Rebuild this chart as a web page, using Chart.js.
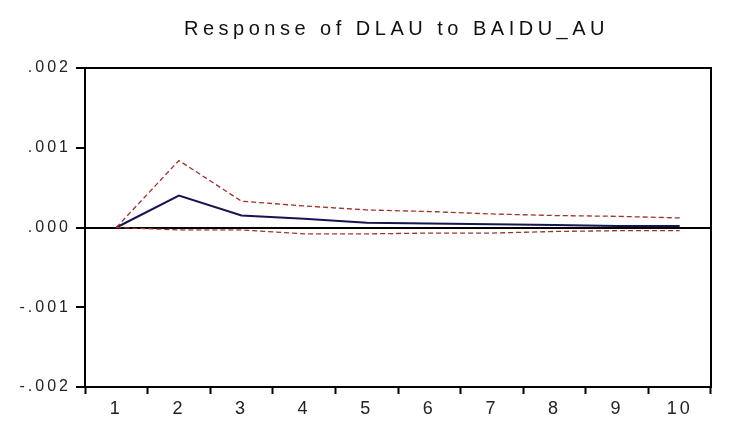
<!DOCTYPE html>
<html>
<head>
<meta charset="utf-8">
<script src="https://cdn.jsdelivr.net/npm/chart.js@4/dist/chart.umd.min.js"></script>
<style>
html,body{margin:0;padding:0;background:#fff;}
#wrap{width:741px;height:446px;position:relative;}
</style>
</head>
<body>
<div id="wrap"><canvas id="c"></canvas></div>
<script>
const periods = ['1','2','3','4','5','6','7','8','9','10'];
const response = [0, 0.00040, 0.00015, 0.00011, 0.00006, 0.00005, 0.00004, 0.00003, 0.00002, 0.00002];
const upperBand = [0, 0.00084, 0.00033, 0.00027, 0.00022, 0.00020, 0.00017, 0.00015, 0.00014, 0.00012];
const lowerBand = [0, -0.00003, -0.00003, -0.00008, -0.00008, -0.00007, -0.00007, -0.00005, -0.00004, -0.00004];
const yTickLabels = {'0.002': '.002', '0.001': '.001', '0': '.000', '-0.001': '-.001', '-0.002': '-.002'};
const titleText = 'Response of DLAU to BAIDU_AU';

const TICK_SPACING = '3px';
const TITLE_SPACING = '4.5px';
const TITLE_SHIFT_X = 41;

const spacingPlugin = {
  id: 'spacing',
  beforeUpdate(chart) { chart.ctx.letterSpacing = TICK_SPACING; },
  beforeLayout(chart) { chart.ctx.letterSpacing = TICK_SPACING; },
  beforeDraw(chart) {
    chart.ctx.letterSpacing = TICK_SPACING;
    const tb = chart.titleBlock;
    if (tb && !tb._wrapped) {
      const orig = tb.draw;
      tb.draw = function (...args) {
        const ctx = chart.ctx;
        ctx.save();
        ctx.translate(TITLE_SHIFT_X, 0);
        ctx.letterSpacing = TITLE_SPACING;
        orig.apply(this, args);
        ctx.restore();
        ctx.letterSpacing = TICK_SPACING;
      };
      tb._wrapped = true;
    }
  }
};

const bandStyle = {
  borderColor: '#a0302a',
  borderWidth: 1.3,
  borderDash: [5, 3],
  pointRadius: 0,
  fill: false,
  tension: 0
};

new Chart(document.getElementById('c'), {
  type: 'line',
  data: {
    labels: periods,
    datasets: [
      Object.assign({ label: 'Upper', data: upperBand }, bandStyle),
      Object.assign({ label: 'Lower', data: lowerBand }, bandStyle),
      { label: 'Response', data: response, borderColor: '#151550', borderWidth: 2, pointRadius: 0, fill: false, tension: 0 }
    ]
  },
  plugins: [spacingPlugin],
  options: {
    responsive: true,
    maintainAspectRatio: false,
    animation: false,
    layout: { padding: { left: 0, right: 30, top: 0, bottom: 0 } },
    plugins: {
      legend: { display: false },
      tooltip: { enabled: false },
      title: {
        display: true,
        text: titleText,
        color: '#111',
        font: { family: 'Liberation Sans, Arial, sans-serif', size: 20, weight: 'normal' },
        padding: { top: 17, bottom: 27 }
      }
    },
    scales: {
      x: {
        type: 'category',
        offset: true,
        position: 'bottom',
        grid: {
          offset: true,
          drawOnChartArea: false,
          drawTicks: true,
          tickLength: 7,
          tickColor: '#000',
          tickWidth: 2
        },
        border: { display: true, color: '#000', width: 2 },
        ticks: {
          color: '#222',
          font: { family: 'Liberation Sans, Arial, sans-serif', size: 18 },
          padding: 4,
          maxRotation: 0,
          autoSkip: false
        },
        afterFit(s) { s.height = 59; }
      },
      x2: {
        type: 'category',
        position: 'top',
        grid: { display: false, drawTicks: false },
        border: { display: true, color: '#000', width: 2 },
        ticks: { display: false },
        afterFit(s) { s.height = 0; }
      },
      y: {
        min: -0.002,
        max: 0.002,
        position: 'left',
        grid: {
          color: (ctx) => (ctx.tick && ctx.tick.value === 0 ? '#000' : 'rgba(0,0,0,0)'),
          lineWidth: 2,
          drawOnChartArea: true,
          drawTicks: true,
          tickLength: 9,
          tickColor: '#000',
          tickWidth: 2
        },
        border: { display: true, color: '#000', width: 2 },
        ticks: {
          stepSize: 0.001,
          color: '#222',
          font: { family: 'Liberation Sans, Arial, sans-serif', size: 16 },
          padding: 5,
          callback: (v) => {
            const k = String(Math.round(v * 1000) / 1000);
            return yTickLabels[k] !== undefined ? yTickLabels[k] : '';
          }
        },
        afterFit(s) { s.width = 85; }
      },
      y2: {
        min: -0.002,
        max: 0.002,
        position: 'right',
        grid: { display: false, drawTicks: false },
        border: { display: true, color: '#000', width: 2 },
        ticks: { display: false },
        afterFit(s) { s.width = 0; }
      }
    }
  }
});
</script>
</body>
</html>
